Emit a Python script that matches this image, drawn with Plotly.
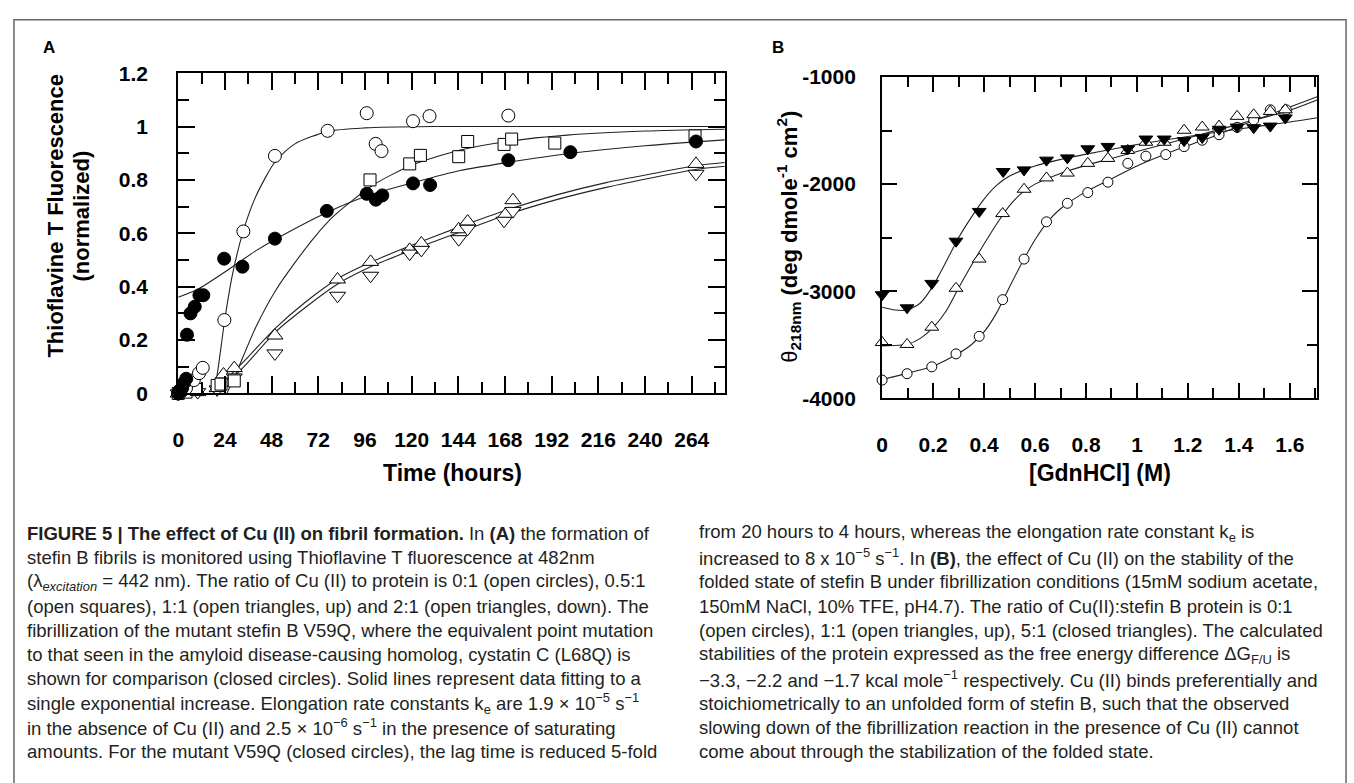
import plotly.graph_objects as go

W, H = 1354, 783

# ---------------- Panel A : Thioflavine T fluorescence vs time ----------------
# 0:1 Cu (open circles)
a_c0_t = [0, 1, 2, 4, 8, 10.7, 12.6, 23.7, 33.5, 49.7, 76.8, 96.9, 101.5, 104.5, 120.7, 129.2, 169.7]
a_c0_v = [0.0, 0.005, 0.01, 0.02, 0.05, 0.076, 0.096, 0.275, 0.607, 0.89, 0.984, 1.05, 0.935, 0.908, 1.02, 1.039, 1.041]
a_c0_fit_t = [0, 18, 20, 24, 28, 33.5, 40, 50, 60, 77, 96, 130, 281]
a_c0_fit_v = [0.0, 0.0, 0.07, 0.28, 0.45, 0.61, 0.74, 0.87, 0.935, 0.982, 0.995, 1.0, 1.0]

# 0.5:1 Cu (open squares)
a_sq_t = [0, 4, 9.2, 20, 22, 28.8, 98.6, 119, 124.5, 144.2, 148.8, 167.5, 171.4, 193.6, 265.7]
a_sq_v = [0.0, 0.005, 0.015, 0.03, 0.035, 0.047, 0.80, 0.86, 0.892, 0.887, 0.944, 0.933, 0.953, 0.938, 0.965]
a_sq_fit_t = [25, 30, 40, 50, 60, 70, 80, 100, 120, 145, 170, 200, 240, 281]
a_sq_fit_v = [0.0, 0.08, 0.25, 0.385, 0.49, 0.585, 0.665, 0.78, 0.855, 0.912, 0.945, 0.968, 0.983, 0.99]

# V59Q mutant (closed circles)
a_cc_t = [0, 0.5, 1, 2, 3, 4.1, 4.5, 6.3, 8.5, 10.9, 12.9, 23.6, 33, 49.7, 76.4, 96.9, 101.6, 104.9, 120.7, 129.5, 169.7, 201.6, 266.2]
a_cc_v = [0.0, 0.01, 0.005, 0.02, 0.04, 0.055, 0.22, 0.30, 0.325, 0.368, 0.368, 0.505, 0.475, 0.58, 0.684, 0.748, 0.726, 0.742, 0.787, 0.781, 0.874, 0.904, 0.944]
a_cc_fit_t = [0, 10, 24, 40, 50, 77, 97, 121, 145, 170, 200, 240, 281]
a_cc_fit_v = [0.36, 0.39, 0.455, 0.535, 0.578, 0.68, 0.74, 0.79, 0.835, 0.866, 0.898, 0.928, 0.95]

# 1:1 Cu (open triangles, up)
a_up_t = [0, 10, 20, 23.3, 28.8, 49.7, 81.9, 98.9, 119, 125, 144.2, 148.8, 168.4, 172.1, 266.2]
a_up_v = [0.0, 0.005, 0.02, 0.071, 0.095, 0.217, 0.427, 0.493, 0.538, 0.562, 0.615, 0.644, 0.672, 0.724, 0.86]
a_up_fit_t = [27, 35, 50, 65, 82, 100, 120, 145, 170, 195, 220, 245, 266, 281]
a_up_fit_v = [0.07, 0.13, 0.245, 0.34, 0.43, 0.495, 0.555, 0.625, 0.69, 0.745, 0.79, 0.825, 0.853, 0.865]

# 2:1 Cu (open triangles, down)
a_dn_t = [0, 10, 20, 24, 28.8, 49.7, 81.9, 98.9, 119, 125, 144.2, 148.8, 167.5, 172.1, 266.2]
a_dn_v = [0.0, 0.005, 0.015, 0.04, 0.06, 0.15, 0.366, 0.441, 0.524, 0.538, 0.578, 0.617, 0.647, 0.684, 0.823]
a_dn_fit_t = [29, 35, 50, 65, 82, 100, 120, 145, 170, 195, 220, 245, 266, 281]
a_dn_fit_v = [0.065, 0.11, 0.23, 0.32, 0.41, 0.478, 0.537, 0.605, 0.672, 0.727, 0.772, 0.81, 0.839, 0.851]

# ---------------- Panel B : CD at 218 nm vs [GdnHCl] ----------------
b_c_x = [0, 0.098, 0.195, 0.29, 0.381, 0.473, 0.557, 0.645, 0.727, 0.807, 0.886, 0.964, 1.035, 1.113, 1.185, 1.256, 1.322, 1.393, 1.458, 1.523, 1.586]
b_c_y = [-3830, -3770, -3706, -3585, -3421, -3079, -2700, -2352, -2179, -2079, -1982, -1806, -1739, -1724, -1650, -1590, -1539, -1470, -1400, -1306, -1306]
b_c_fit_x = [0, 0.1, 0.2, 0.3, 0.35, 0.4, 0.45, 0.5, 0.55, 0.6, 0.65, 0.7, 0.8, 0.9, 1.0, 1.1, 1.2, 1.3, 1.4, 1.5, 1.6, 1.707]
b_c_fit_y = [-3825, -3765, -3700, -3580, -3500, -3380, -3200, -2960, -2730, -2520, -2350, -2230, -2070, -1950, -1830, -1730, -1640, -1555, -1460, -1370, -1280, -1185]

b_up_x = [0, 0.098, 0.195, 0.29, 0.381, 0.473, 0.557, 0.645, 0.727, 0.807, 0.886, 0.964, 1.035, 1.107, 1.185, 1.256, 1.322, 1.393, 1.458, 1.523, 1.582]
b_up_y = [-3479, -3497, -3336, -2973, -2700, -2275, -2048, -1942, -1897, -1806, -1760, -1685, -1609, -1609, -1497, -1467, -1458, -1367, -1352, -1321, -1306]
b_up_fit_x = [0, 0.1, 0.15, 0.2, 0.25, 0.3, 0.35, 0.4, 0.45, 0.5, 0.55, 0.6, 0.7, 0.8, 0.9, 1.0, 1.2, 1.4, 1.6, 1.707]
b_up_fit_y = [-3510, -3495, -3440, -3340, -3190, -2970, -2760, -2560, -2370, -2200, -2080, -2000, -1900, -1825, -1760, -1695, -1570, -1440, -1310, -1215]

b_dn_x = [0, 0.098, 0.195, 0.29, 0.381, 0.475, 0.557, 0.645, 0.727, 0.807, 0.886, 0.964, 1.035, 1.107, 1.185, 1.256, 1.322, 1.393, 1.458, 1.523, 1.582]
b_dn_y = [-3033, -3155, -2927, -2533, -2255, -1882, -1867, -1776, -1755, -1670, -1648, -1670, -1579, -1579, -1594, -1564, -1488, -1467, -1473, -1458, -1382]
b_dn_fit_x = [0, 0.05, 0.1, 0.15, 0.2, 0.25, 0.3, 0.35, 0.4, 0.45, 0.5, 0.6, 0.7, 0.8, 0.9, 1.0, 1.2, 1.4, 1.6, 1.707]
b_dn_fit_y = [-3150, -3175, -3175, -3110, -2950, -2730, -2500, -2310, -2140, -2010, -1925, -1830, -1770, -1720, -1675, -1630, -1555, -1485, -1420, -1380]

b_yticks = [-4000, -3000, -2000, -1000]
b_yticktext = ["-4000", "-3000", "-2000", "-1000"]

caption_left = [
    "<b>FIGURE 5 | The effect of Cu (II) on fibril formation.</b> In <b>(A)</b> the formation of",
    "stefin B fibrils is monitored using Thioflavine T fluorescence at 482nm",
    "(λ<sub><i>excitation</i></sub> = 442 nm). The ratio of Cu (II) to protein is 0:1 (open circles), 0.5:1",
    "(open squares), 1:1 (open triangles, up) and 2:1 (open triangles, down). The",
    "fibrillization of the mutant stefin B V59Q, where the equivalent point mutation",
    "to that seen in the amyloid disease-causing homolog, cystatin C (L68Q) is",
    "shown for comparison (closed circles). Solid lines represent data fitting to a",
    "single exponential increase. Elongation rate constants k<sub>e</sub> are 1.9 × 10<sup>−5</sup> s<sup>−1</sup>",
    "in the absence of Cu (II) and 2.5 × 10<sup>−6</sup> s<sup>−1</sup> in the presence of saturating",
    "amounts. For the mutant V59Q (closed circles), the lag time is reduced 5-fold",
]
caption_right = [
    "from 20 hours to 4 hours, whereas the elongation rate constant k<sub>e</sub> is",
    "increased to 8 x 10<sup>−5</sup> s<sup>−1</sup>. In <b>(B)</b>, the effect of Cu (II) on the stability of the",
    "folded state of stefin B under fibrillization conditions (15mM sodium acetate,",
    "150mM NaCl, 10% TFE, pH4.7). The ratio of Cu(II):stefin B protein is 0:1",
    "(open circles), 1:1 (open triangles, up), 5:1 (closed triangles). The calculated",
    "stabilities of the protein expressed as the free energy difference ΔG<sub>F/U</sub> is",
    "−3.3, −2.2 and −1.7 kcal mole<sup>−1</sup> respectively. Cu (II) binds preferentially and",
    "stoichiometrically to an unfolded form of stefin B, such that the observed",
    "slowing down of the fibrillization reaction in the presence of Cu (II) cannot",
    "come about through the stabilization of the folded state.",
]

FONT = "Liberation Sans, Arial, sans-serif"
CAPFONT = "Liberation Sans, Arial, sans-serif"

fig = go.Figure()

def fit_line(x, y, xa, ya):
    fig.add_trace(go.Scatter(x=x, y=y, mode="lines", xaxis=xa, yaxis=ya,
                             line=dict(color="#222222", width=1.1, shape="spline", smoothing=0.7),
                             hoverinfo="skip"))

def pts(x, y, xa, ya, symbol, size, fill):
    fig.add_trace(go.Scatter(x=x, y=y, mode="markers", xaxis=xa, yaxis=ya, cliponaxis=False,
                             marker=dict(symbol=symbol, size=size, color=fill,
                                         line=dict(color="black", width=1))))

# Panel A
fit_line(a_c0_fit_t, a_c0_fit_v, "x", "y")
fit_line(a_sq_fit_t, a_sq_fit_v, "x", "y")
fit_line(a_cc_fit_t, a_cc_fit_v, "x", "y")
fit_line(a_up_fit_t, a_up_fit_v, "x", "y")
fit_line(a_dn_fit_t, a_dn_fit_v, "x", "y")
pts(a_up_t, a_up_v, "x", "y", "triangle-up", 14, "white")
pts(a_dn_t, a_dn_v, "x", "y", "triangle-down", 14, "white")
pts(a_sq_t, a_sq_v, "x", "y", "square", 12, "white")
pts(a_c0_t, a_c0_v, "x", "y", "circle", 13, "white")
pts(a_cc_t, a_cc_v, "x", "y", "circle", 13, "black")

# Panel B
fit_line(b_c_fit_x, b_c_fit_y, "x2", "y2")
fit_line(b_up_fit_x, b_up_fit_y, "x2", "y2")
fit_line(b_dn_fit_x, b_dn_fit_y, "x2", "y2")
pts(b_c_x, b_c_y, "x2", "y2", "circle", 10, "white")
pts(b_up_x, b_up_y, "x2", "y2", "triangle-up", 12, "white")
pts(b_dn_x, b_dn_y, "x2", "y2", "triangle-down", 12, "black")

def xdom(a, b):
    return [a / W, b / W]

def ydom(top, bottom):
    return [1 - bottom / H, 1 - top / H]

tickfont = dict(family=FONT, size=21, color="black", weight="bold")
common = dict(showline=True, linewidth=2, linecolor="black", mirror="ticks",
              ticks="inside", tickwidth=2, tickcolor="black", showgrid=False,
              zeroline=False, tickfont=tickfont)

fig.update_layout(
    width=W, height=H, margin=dict(l=0, r=0, t=0, b=0),
    paper_bgcolor="white", plot_bgcolor="white", showlegend=False,
    font=dict(family=FONT, color="black"),
    xaxis=dict(domain=xdom(173, 722), range=[0, 281], anchor="y", tick0=0, dtick=24,
               ticklen=17, ticklabelstandoff=26,
               minor=dict(tick0=0, dtick=12, ticks="inside", ticklen=11, tickwidth=2, tickcolor="black"),
               **common),
    yaxis=dict(domain=ydom(63, 393), range=[0, 1.2], anchor="x", tick0=0, dtick=0.2,
               ticklen=17, ticklabelstandoff=24,
               minor=dict(tick0=0, dtick=0.1, ticks="inside", ticklen=11, tickwidth=2, tickcolor="black"),
               **common),
    xaxis2=dict(domain=xdom(880, 1317), range=[0, 1.707], anchor="y2", tick0=0, dtick=0.2,
                ticklen=15, ticklabelstandoff=26,
                minor=dict(tick0=0, dtick=0.1, ticks="inside", ticklen=10, tickwidth=2, tickcolor="black"),
                **common),
    yaxis2=dict(domain=ydom(67, 398), range=[-4000, -1000], anchor="x2",
                tickvals=b_yticks, ticktext=b_yticktext,
                ticklen=15, ticklabelstandoff=20,
                minor=dict(tick0=-4000, dtick=500, ticks="inside", ticklen=10, tickwidth=2, tickcolor="black"),
                **common),
)

ann = []
def label(text, x, y, size, angle=0, xanchor="center", family=FONT, color="black"):
    ann.append(dict(text=text, x=x / W, y=1 - y / H, xref="paper", yref="paper",
                    showarrow=False, xanchor=xanchor, yanchor="middle", textangle=angle,
                    font=dict(family=family, size=size, color=color), align="left"))

label("<b>A</b>", 43, 37, 17)
label("<b>B</b>", 775, 37, 17)
label("<b>Time (hours)</b>", 448, 475, 23)
label("<b>[GdnHCl] (M)</b>", 1099, 475, 23)
label("<b>Thioflavine T Fluorescence</b>", 50, 210, 22, angle=-90)
label("<b>(normalized)</b>", 76, 210, 22, angle=-90)
label("θ<sub><b>218nm</b></sub><b> (deg dmole<sup>-1</sup> cm<sup>2</sup>)</b>", 786, 232, 22, angle=-90)

for i, line in enumerate(caption_left):
    label(line, 19, 537 + 25 * i, 18.5, xanchor="left", family=CAPFONT, color="#231f20")
for i, line in enumerate(caption_right):
    label(line, 694, 537 + 25 * i, 18.5, xanchor="left", family=CAPFONT, color="#231f20")

fig.update_layout(annotations=ann)

fig.add_shape(type="rect", xref="paper", yref="paper", x0=8 / W, x1=1346 / W,
              y0=-0.05, y1=1 - 8 / H, line=dict(color="#666666", width=1.5), layer="above")

fig.write_html("out.html", config={"displayModeBar": False},
               post_script="document.body.style.margin='0';document.body.style.overflow='hidden';")
